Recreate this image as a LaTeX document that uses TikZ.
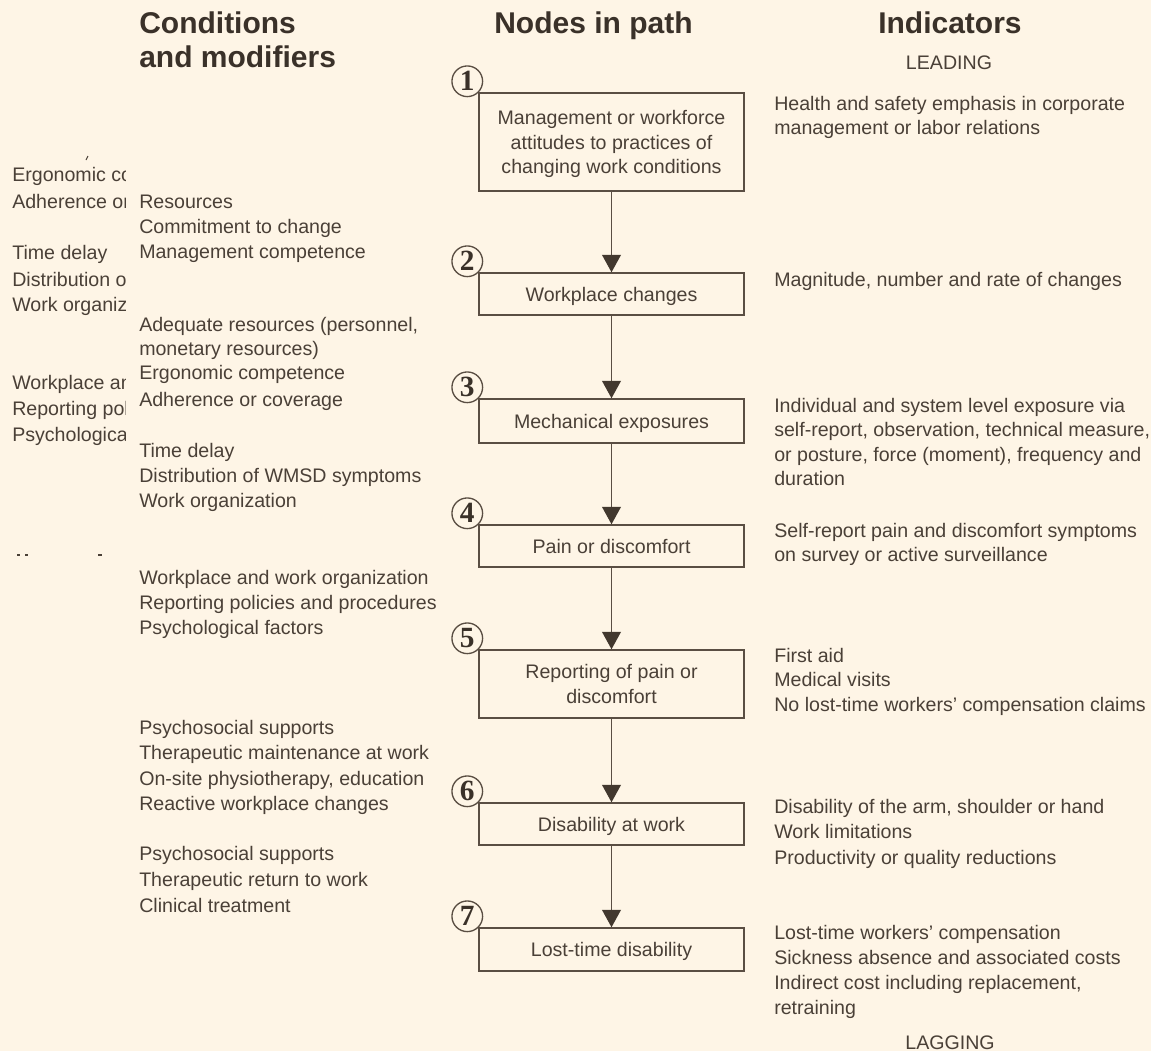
\documentclass[tikz,border=0pt]{standalone}
\usepackage{fontspec}
\setmainfont{Liberation Sans}
\newfontfamily\digitfont{Liberation Serif}
\usetikzlibrary{arrows.meta}
\definecolor{paper}{HTML}{FEF5E6}
\definecolor{ink}{HTML}{4A4037}
\definecolor{headink}{HTML}{3A3129}
\definecolor{frame}{HTML}{5A4E43}
\definecolor{tip}{HTML}{42382E}

\begin{document}
\begin{tikzpicture}[x=0.75pt,y=-0.75pt,
  body/.style={font=\fontsize{14.7}{18.4}\selectfont, text=ink, inner sep=0pt},
  line/.style={body, anchor=base west},
  head/.style={font=\fontsize{22.5}{25}\selectfont\bfseries, text=headink, inner sep=0pt, anchor=base west},
  stage/.style={body, draw=frame, line width=1.1pt, minimum width=198.75pt, align=center,
                inner sep=0pt, text depth=0pt},
  badge/.style={circle, draw=frame, line width=1pt, minimum size=23pt, inner sep=0pt,
                font=\digitfont\fontsize{22}{22}\selectfont\bfseries, text=headink},
  flow/.style={draw=frame, line width=1.1pt,
               -{Triangle[width=14pt,length=13pt,color=tip]}},
]
% page
\fill[paper] (0,0) rectangle (1151,1051);
\useasboundingbox (0,0) rectangle (1151,1051);

% column headings
\node[head] (hcond1) at (139,33) {Conditions};
\node[head] (hcond2) at (139,67) {and modifiers};
\node[head] (hnodes) at (494,33) {Nodes in path};
\node[head] (hind) at (878,33) {Indicators};
\node[body, anchor=base] (lead) at (949,69) {LEADING};
\node[body, anchor=base] (lag) at (950,1049) {LAGGING};

% stages of the path
\node[stage, minimum height=73.5pt] (n1) at (611.5,142) {Management or workforce\\attitudes to practices of\\changing work conditions};
\node[stage, minimum height=31.5pt] (n2) at (611.5,294) {Workplace changes};
\node[stage, minimum height=33pt] (n3) at (611.5,421) {Mechanical exposures};
\node[stage, minimum height=31.5pt] (n4) at (611.5,546) {Pain or discomfort};
\node[stage, minimum height=51pt] (n5) at (611.5,684) {Reporting of pain or\\discomfort};
\node[stage, minimum height=31.5pt] (n6) at (611.5,824) {Disability at work};
\node[stage, minimum height=32.25pt] (n7) at (611.5,949.5) {Lost-time disability};

% numbered badges
\foreach \k in {1,...,7}{
  \node[badge] (b\k) at ([shift={(-11,-11)}]n\k.north west) {\k};
}

% flow arrows
\foreach \a/\b in {1/2,2/3,3/4,4/5,5/6,6/7}{
  \draw[flow] (n\a.south) -- (n\b.north);
}

% conditions and modifiers
\foreach \yy/\txt [count=\k] in {
  201/{Resources}, 226/{Commitment to change}, 251/{Management competence},
  324/{Adequate resources (personnel,}, 348/{monetary resources)},
  372/{Ergonomic competence}, 399/{Adherence or coverage},
  450/{Time delay}, 475/{Distribution of WMSD symptoms}, 500/{Work organization},
  577/{Workplace and work organization}, 602/{Reporting policies and procedures},
  627/{Psychological factors},
  727/{Psychosocial supports}, 752/{Therapeutic maintenance at work},
  778/{On-site physiotherapy, education}, 803/{Reactive workplace changes},
  853/{Psychosocial supports}, 879/{Therapeutic return to work}, 905/{Clinical treatment}}{
  \node[line] (cond\k) at (139,\yy+7) {\txt};
}

% cut-off duplicate of the conditions column at the left margin
\begin{scope}
  \clip (0,150) rectangle (125,565);
  \foreach \yy/\txt [count=\k] in {
    174/{Ergonomic com}, 201/{Adherence or c},
    252/{Time delay}, 279/{Distribution of}, 304/{Work organiza},
    382/{Workplace and}, 408/{Reporting poli},
    434/{Psychological}}{
    \node[line] (echo\k) at (12,\yy+7) {\txt};
  }
  \draw[ink, line width=0.8pt] (86,160) -- (88,156);
  \draw[ink, line width=1pt] (17,555) -- (20,555) (25,555) -- (28,555) (98,555) -- (102,555);
\end{scope}

% indicators
\foreach \yy/\txt [count=\k] in {
  103/{Health and safety emphasis in corporate}, 127/{management or labor relations},
  279/{Magnitude, number and rate of changes},
  405/{Individual and system level exposure via},
  429/{self-report, observation, technical measure,},
  454/{or posture, force (moment), frequency and}, 478/{duration},
  530/{Self-report pain and discomfort symptoms}, 554/{on survey or active surveillance},
  655/{First aid}, 679/{Medical visits}, 704/{No lost-time workers’ compensation claims},
  806/{Disability of the arm, shoulder or hand}, 831/{Work limitations},
  857/{Productivity or quality reductions},
  932/{Lost-time workers’ compensation}, 957/{Sickness absence and associated costs},
  982/{Indirect cost including replacement,}, 1007/{retraining}}{
  \node[line] (ind\k) at (774,\yy+7) {\txt};
}
\end{tikzpicture}
\end{document}
